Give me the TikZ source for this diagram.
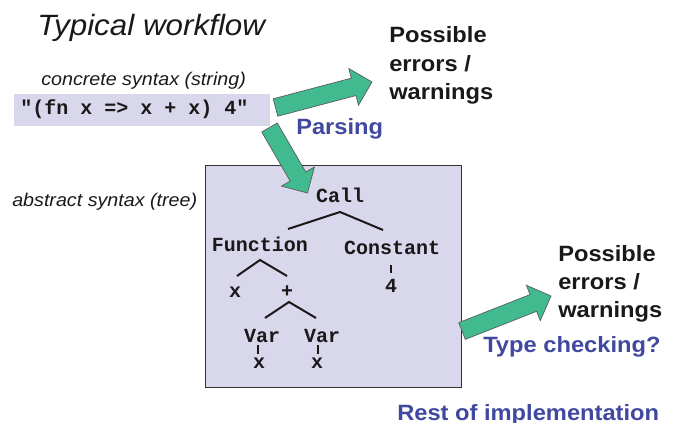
\documentclass[tikz,border=0pt]{standalone}
\usepackage{fontspec}
\setmainfont[FakeStretch=1.07]{Liberation Sans}
\newfontfamily\codefont{Liberation Mono}
\usetikzlibrary{calc}
\definecolor{lav}{RGB}{217,215,236}
\definecolor{arrgreen}{RGB}{64,186,142}
\definecolor{stepblue}{RGB}{64,72,160}
\definecolor{inkgray}{RGB}{25,25,25}
\newcommand\fatconn[2]{%
  \coordinate (#2-hb) at ($(#2)!14.25pt!(#1)$);
  \draw[fatarrow] ($(#1)!6.75pt!90:(#2)$) -- ($(#2-hb)!6.75pt!90:(#2)$) -- ($(#2-hb)!14.25pt!90:(#2)$) -- (#2) -- ($(#2-hb)!14.25pt!-90:(#2)$) -- ($(#2-hb)!6.75pt!-90:(#2)$) -- ($(#1)!6.75pt!-90:(#2)$) -- cycle;}
\begin{document}
\begin{tikzpicture}[x=0.75pt,y=-0.75pt,
  titletxt/.style={anchor=base west, inner sep=0, text=inkgray, font=\fontsize{22}{26}\selectfont\itshape},
  notetxt/.style={anchor=base west, inner sep=0, text=inkgray, font=\fontsize{13.8}{16}\selectfont\itshape},
  errtxt/.style={anchor=base west, inner sep=0, text=inkgray, font=\fontsize{16.6}{20}\selectfont\bfseries},
  phasetxt/.style={anchor=base west, inner sep=0, text=stepblue, font=\fontsize{16.6}{20}\selectfont\bfseries},
  codetxt/.style={anchor=base, inner sep=0, text=inkgray, font=\fontsize{15}{18}\selectfont\codefont\bfseries},
  treeline/.style={line width=1.5pt, draw=inkgray},
  fatarrow/.style={fill=arrgreen, draw=black!65, line width=0.5pt, line join=miter},
  panel/.style={fill=lav, draw=black!80, line width=0.8pt, inner sep=0, anchor=north west}]
\useasboundingbox (0,0) rectangle (680,423);

% titles and notes
\node[titletxt] (title) at (37,36) {Typical workflow};
\node[notetxt] (concrete) at (41,86) {concrete syntax (string)};
\node[notetxt] (abstract) at (12,207) {abstract syntax (tree)};

% string box
\node[fill=lav, inner sep=0, anchor=north west, minimum width=192pt, minimum height=24pt] (strbox) at (14,94) {};
\node[codetxt, anchor=base west] (strtext) at (20,115) {"(fn x => x + x) 4"};

% tree panel
\node[panel, minimum width=192pt, minimum height=166.5pt] (treebox) at (205,165) {};

% tree labels
\node[codetxt] (call) at (340,203) {Call};
\node[codetxt] (func) at (260,252) {Function};
\node[codetxt] (const) at (392,255) {Constant};
\node[codetxt] (four) at (391,293) {4};
\node[codetxt] (fx) at (235,297) {x};
\node[codetxt] (plus) at (287,297) {+};
\node[codetxt] (varl) at (262,342) {Var};
\node[codetxt] (varr) at (322,342) {Var};
\node[codetxt] (xl) at (259,368) {x};
\node[codetxt] (xr) at (317,368) {x};

% tree lines
\coordinate (callL) at (288,229);
\coordinate (callA) at (340,212);
\coordinate (callR) at (383,230);
\draw[treeline] (callL) -- (callA) -- (callR);
\coordinate (funL) at (237,276);
\coordinate (funA) at (260,260);
\coordinate (funR) at (287,276);
\draw[treeline] (funL) -- (funA) -- (funR);
\coordinate (plL) at (265,318);
\coordinate (plA) at (289,302);
\coordinate (plR) at (316,318);
\draw[treeline] (plL) -- (plA) -- (plR);
\coordinate (cT) at (391,265);
\coordinate (cB) at (391,273);
\draw[treeline] (cT) -- (cB);
\coordinate (vlT) at (258,345);
\coordinate (vlB) at (258,354);
\draw[treeline] (vlT) -- (vlB);
\coordinate (vrT) at (318,345);
\coordinate (vrB) at (318,354);
\draw[treeline] (vrT) -- (vrB);

% right-hand texts
\node[errtxt] (pe1a) at (389,43) {Possible};
\node[errtxt] (pe1b) at (389,72) {errors /};
\node[errtxt] (pe1c) at (389,100) {warnings};
\node[errtxt] (pe2a) at (558,262) {Possible};
\node[errtxt] (pe2b) at (558,290) {errors /};
\node[errtxt] (pe2c) at (558,317) {warnings};
\node[phasetxt] (parsing) at (296,135) {Parsing};
\node[phasetxt] (typecheck) at (483,352) {Type checking?};
\node[phasetxt] (rest) at (397,420) {Rest of implementation};

% fat arrows
\coordinate (a1t) at (275.5,107.5);
\coordinate (a1h) at (372,82);
\coordinate (a2t) at (269.5,127.5);
\coordinate (a2h) at (307.5,193);
\coordinate (a3t) at (462,331);
\coordinate (a3h) at (551,296);
\fatconn{a1t}{a1h}
\fatconn{a2t}{a2h}
\fatconn{a3t}{a3h}
\end{tikzpicture}
\end{document}
